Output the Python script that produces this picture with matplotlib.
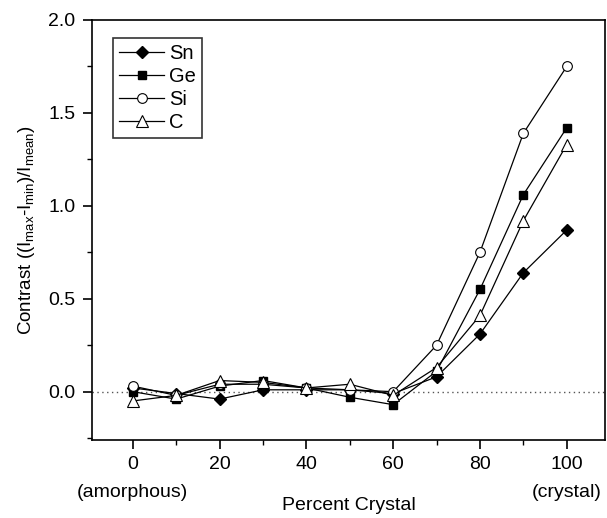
import matplotlib
matplotlib.use("Agg")
import matplotlib.pyplot as plt
from matplotlib.ticker import MultipleLocator, FormatStrFormatter

plt.rcParams['font.family'] = ['Liberation Sans', 'DejaVu Sans']
plt.rcParams['mathtext.fontset'] = 'custom'
plt.rcParams['mathtext.rm'] = 'Liberation Sans'
plt.rcParams['mathtext.it'] = 'Liberation Sans'

# percent crystal
pct = [0, 10, 20, 30, 40, 50, 60, 70, 80, 90, 100]

# contrast values per element
sn = [0.02, -0.01, -0.04, 0.01, 0.01, 0.01, -0.01, 0.08, 0.31, 0.64, 0.87]
ge = [0.00, -0.04, 0.03, 0.06, 0.02, -0.03, -0.07, 0.11, 0.55, 1.06, 1.42]
si = [0.03, -0.02, 0.04, 0.04, 0.02, 0.01, 0.00, 0.25, 0.75, 1.39, 1.75]
c = [-0.05, -0.02, 0.06, 0.05, 0.02, 0.04, -0.02, 0.13, 0.41, 0.92, 1.33]

fig = plt.figure(figsize=(6.07, 5.18), dpi=100)
ax = fig.add_axes([0.1516, 0.1506, 0.845, 0.8108])

ax.axhline(0, color='#555555', linestyle=(0, (1, 2.5)), linewidth=1.0, zorder=1)

lw = 0.9
ax.plot(pct, sn, color='black', lw=lw, marker='D', ms=6, mfc='black', mec='black', label='Sn', zorder=3)
ax.plot(pct, ge, color='black', lw=lw, marker='s', ms=6, mfc='black', mec='black', label='Ge', zorder=3)
ax.plot(pct, si, color='black', lw=lw, marker='o', ms=7, mfc='white', mec='black', mew=0.8, label='Si', zorder=3)
ax.plot(pct, c, color='black', lw=lw, marker='^', ms=8, mfc='white', mec='black', mew=0.8, label='C', zorder=3)

ax.set_xlim(-9.4, 108.8)
ax.set_ylim(-0.26, 2.0)
ax.xaxis.set_major_locator(MultipleLocator(20))
ax.xaxis.set_minor_locator(MultipleLocator(10))
ax.yaxis.set_major_locator(MultipleLocator(0.5))
ax.yaxis.set_minor_locator(MultipleLocator(0.25))
ax.yaxis.set_major_formatter(FormatStrFormatter('%.1f'))

ax.tick_params(which='major', direction='out', length=6.5, width=1.2, labelsize=14)
ax.tick_params(axis='y', which='major', pad=5.5)
ax.tick_params(axis='x', which='major', pad=5)
ax.tick_params(which='minor', direction='out', length=3.5, width=1.0)
ax.tick_params(top=False, right=False)
for s in ax.spines.values():
    s.set_linewidth(1.2)

ax.set_ylabel(r'Contrast ((I$_\mathregular{max}$-I$_\mathregular{min}$)/I$_\mathregular{mean}$)',
              fontsize=13.5, labelpad=8)

ax.text(0.5, -0.157, 'Percent Crystal', transform=ax.transAxes,
        ha='center', va='center', fontsize=14)
xt = ax.get_xaxis_transform()
ax.text(0, -0.124, '(amorphous)', transform=xt, ha='center', va='center', fontsize=14)
ax.text(100, -0.124, '(crystal)', transform=xt, ha='center', va='center', fontsize=14)

leg = ax.legend(loc='upper left', bbox_to_anchor=(0.041, 0.957), fontsize=14.5,
                frameon=True, fancybox=False, edgecolor='black', handlelength=2.25,
                handletextpad=0.25, borderpad=0.3, labelspacing=0.2, borderaxespad=0)
leg.get_frame().set_linewidth(1.2)

fig.savefig('out.png', dpi=100)
